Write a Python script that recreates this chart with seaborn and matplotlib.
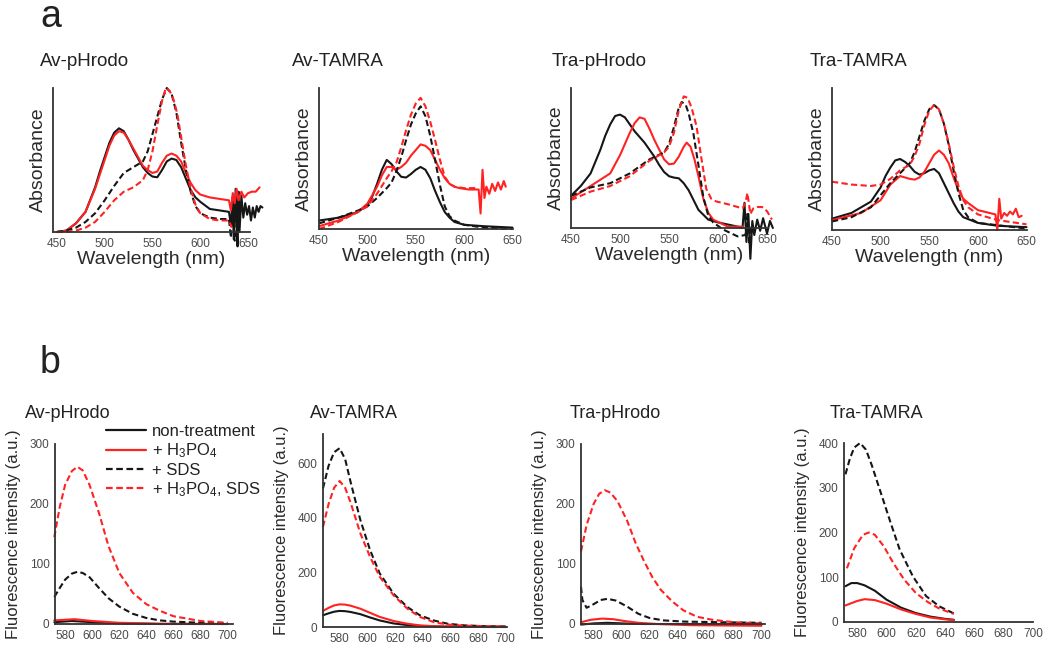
import numpy as np
import pandas as pd
import seaborn as sns
import matplotlib.pyplot as plt
from matplotlib.lines import Line2D

# treatments (legend order)
treatments = ['non-treatment', '+ H$_3$PO$_4$', '+ SDS', '+ H$_3$PO$_4$, SDS']
samples = ['Av-pHrodo', 'Av-TAMRA', 'Tra-pHrodo', 'Tra-TAMRA']

# Av-pHrodo
a1_nt_wl = [450, 460, 470, 480, 490, 495, 500, 505, 510, 515, 520, 525, 530, 535, 540, 545, 550, 555, 560, 565,
            570, 575, 580, 585, 590, 595, 600, 610, 620, 630,
            632, 634, 635, 637, 638, 639, 640, 641, 643, 645, 647, 649, 651, 653, 655, 657, 659, 661, 663, 665]
a1_nt = [0.0, 0.01, 0.06, 0.14, 0.31, 0.42, 0.52, 0.62, 0.69, 0.72, 0.70, 0.64, 0.57, 0.51, 0.45, 0.41, 0.385, 0.38, 0.43, 0.49,
         0.51, 0.50, 0.45, 0.37, 0.29, 0.24, 0.21, 0.16, 0.15, 0.14,
         0.05, 0.25, -0.05, 0.30, 0.05, -0.10, 0.28, 0.0, 0.25, 0.10, 0.20, 0.12, 0.18, 0.08, 0.17, 0.10, 0.18, 0.14, 0.18, 0.17]
a1_h3_wl = [450, 460, 470, 480, 490, 495, 500, 505, 510, 515, 520, 525, 530, 535, 540, 545, 550, 555, 560, 565,
            570, 575, 580, 585, 590, 595, 600, 610, 620, 630,
            632, 634, 636, 638, 640, 643, 646, 650, 654, 658, 662]
a1_h3 = [0.0, 0.01, 0.06, 0.14, 0.30, 0.40, 0.50, 0.60, 0.67, 0.70, 0.69, 0.64, 0.58, 0.52, 0.46, 0.43, 0.41, 0.42, 0.48, 0.53,
         0.545, 0.53, 0.49, 0.41, 0.34, 0.29, 0.26, 0.24, 0.23, 0.22,
         0.15, 0.27, 0.20, 0.30, 0.22, 0.28, 0.24, 0.27, 0.28, 0.28, 0.31]
a1_sds_wl = [450, 460, 470, 480, 490, 500, 510, 520, 530, 540, 545, 550, 555, 560, 565, 570, 575, 580, 585, 590,
             595, 600, 610, 620, 630, 632, 634, 636, 638]
a1_sds = [0.0, 0.01, 0.03, 0.07, 0.13, 0.22, 0.32, 0.41, 0.45, 0.49, 0.56, 0.68, 0.80, 0.92, 1.0, 0.96, 0.83, 0.62, 0.43, 0.28,
          0.18, 0.13, 0.10, 0.09, 0.09, -0.04, 0.14, -0.06, 0.05]
a1_both_wl = [450, 460, 470, 480, 490, 500, 510, 520, 530, 540, 545, 550, 555, 560, 564, 568, 572, 576, 580, 585,
              590, 595, 600, 610, 620, 630, 633]
a1_both = [0.0, 0.0, 0.01, 0.03, 0.07, 0.14, 0.22, 0.28, 0.31, 0.36, 0.43, 0.56, 0.74, 0.91, 1.0, 0.98, 0.92, 0.82, 0.66, 0.46,
           0.30, 0.19, 0.13, 0.09, 0.08, 0.08, 0.03]

# Av-TAMRA
a2_nt_wl = [450, 470, 490, 500, 505, 510, 515, 520, 525, 530, 535, 540, 545, 550, 555, 560, 565, 570, 575, 580,
            585, 590, 600, 620, 650]
a2_nt = [0.06, 0.08, 0.12, 0.17, 0.23, 0.32, 0.42, 0.49, 0.46, 0.41, 0.37, 0.365, 0.39, 0.42, 0.44, 0.42, 0.36, 0.27, 0.19, 0.12,
         0.08, 0.05, 0.03, 0.02, 0.01]
a2_h3_wl = [450, 470, 490, 500, 510, 515, 520, 525, 530, 535, 540, 545, 550, 555, 560, 565, 570, 575, 580, 585,
            590, 595, 605, 615, 617, 619, 621, 623, 626, 629, 632, 635, 638, 641, 643]
a2_h3 = [0.02, 0.06, 0.12, 0.18, 0.30, 0.38, 0.44, 0.44, 0.42, 0.44, 0.47, 0.52, 0.56, 0.60, 0.59, 0.56, 0.49, 0.42, 0.36, 0.32,
         0.30, 0.29, 0.28, 0.28, 0.11, 0.42, 0.22, 0.30, 0.25, 0.32, 0.27, 0.33, 0.28, 0.34, 0.30]
a2_sds_wl = [450, 470, 490, 500, 510, 520, 525, 530, 535, 540, 545, 550, 555, 560, 565, 570, 575, 580, 585, 590,
             600, 620, 650]
a2_sds = [0.04, 0.08, 0.13, 0.16, 0.22, 0.29, 0.33, 0.41, 0.51, 0.63, 0.74, 0.82, 0.87, 0.80, 0.66, 0.49, 0.31, 0.16, 0.09, 0.06,
          0.03, 0.01, 0.0]
a2_both_wl = [450, 470, 490, 500, 510, 520, 525, 530, 535, 540, 545, 550, 555, 560, 565, 570, 575, 580, 585, 590,
              600, 612]
a2_both = [0.0, 0.05, 0.12, 0.16, 0.25, 0.36, 0.41, 0.47, 0.58, 0.70, 0.81, 0.89, 0.93, 0.87, 0.76, 0.63, 0.49, 0.37, 0.32, 0.30,
           0.29, 0.29]

# Tra-pHrodo
a3_nt_wl = [450, 460, 470, 480, 485, 490, 495, 500, 505, 510, 515, 520, 525, 530, 535, 540, 545, 550, 555, 560,
            565, 570, 575, 580, 590, 600, 620, 625,
            627, 629, 631, 633, 635, 637, 640, 643, 646, 650, 653, 656]
a3_nt = [0.23, 0.30, 0.39, 0.56, 0.66, 0.74, 0.80, 0.81, 0.79, 0.74, 0.69, 0.65, 0.61, 0.56, 0.51, 0.45, 0.40, 0.37, 0.36, 0.355,
         0.32, 0.27, 0.20, 0.13, 0.06, 0.04, 0.01, 0.0,
         0.18, -0.10, 0.10, -0.22, 0.05, -0.05, 0.06, -0.02, 0.07, -0.04, 0.05, 0.0]
a3_h3_wl = [450, 470, 490, 500, 505, 510, 515, 520, 525, 530, 535, 540, 545, 550, 555, 560, 565, 568, 572, 576,
            580, 585, 590, 595, 610, 625]
a3_h3 = [0.21, 0.30, 0.39, 0.52, 0.60, 0.68, 0.75, 0.79, 0.78, 0.71, 0.63, 0.56, 0.49, 0.455, 0.46, 0.51, 0.58, 0.61, 0.58, 0.49,
         0.37, 0.21, 0.11, 0.06, 0.01, 0.01]
a3_sds_wl = [450, 470, 490, 510, 530, 545, 550, 555, 560, 563, 567, 570, 575, 580, 585, 590, 595, 605, 620, 628,
             630, 632, 634, 636]
a3_sds = [0.23, 0.29, 0.32, 0.39, 0.49, 0.54, 0.60, 0.72, 0.86, 0.90, 0.88, 0.82, 0.67, 0.45, 0.22, 0.09, 0.04, -0.01, -0.06, -0.05,
          0.10, -0.12, 0.02, -0.05]
a3_both_wl = [450, 470, 490, 510, 530, 545, 550, 555, 560, 565, 569, 573, 578, 583, 588, 593, 598, 610, 625, 628,
              630, 633, 636, 640, 645, 650, 655]
a3_both = [0.20, 0.26, 0.30, 0.37, 0.48, 0.54, 0.58, 0.68, 0.84, 0.94, 0.93, 0.86, 0.73, 0.50, 0.28, 0.21, 0.19, 0.17, 0.14, 0.18,
           0.25, 0.10, 0.14, 0.15, 0.15, 0.12, 0.06]

# Tra-TAMRA
a4_nt_wl = [450, 470, 490, 500, 505, 510, 515, 520, 525, 530, 535, 540, 545, 550, 555, 560, 565, 570, 575, 580,
            585, 600, 620, 650]
a4_nt = [0.08, 0.12, 0.20, 0.30, 0.38, 0.44, 0.49, 0.50, 0.48, 0.45, 0.41, 0.39, 0.40, 0.42, 0.43, 0.40, 0.33, 0.26, 0.19, 0.13,
         0.09, 0.05, 0.03, 0.02]
a4_h3_wl = [450, 480, 500, 510, 520, 525, 530, 535, 540, 545, 550, 555, 560, 565, 570, 575, 580, 585, 590, 600,
            618, 620, 622, 624, 627, 630, 633, 636, 639, 642, 645]
a4_h3 = [0.07, 0.12, 0.21, 0.32, 0.38, 0.37, 0.36, 0.355, 0.37, 0.41, 0.47, 0.53, 0.56, 0.53, 0.47, 0.37, 0.28, 0.22, 0.19, 0.14,
         0.11, 0.0, 0.22, 0.08, 0.12, 0.10, 0.13, 0.11, 0.15, 0.09, 0.10]
a4_sds_wl = [450, 470, 490, 510, 520, 530, 535, 540, 545, 550, 555, 560, 565, 570, 575, 580, 585, 590, 600, 650]
a4_sds = [0.06, 0.09, 0.16, 0.33, 0.40, 0.47, 0.55, 0.66, 0.77, 0.85, 0.88, 0.85, 0.75, 0.60, 0.42, 0.26, 0.14, 0.09, 0.05, 0.01]
a4_both_wl = [450, 470, 490, 500, 510, 520, 530, 535, 540, 545, 550, 555, 560, 565, 570, 575, 580, 585, 590, 600,
              620, 640, 650]
a4_both = [0.34, 0.32, 0.31, 0.32, 0.36, 0.42, 0.46, 0.52, 0.61, 0.74, 0.84, 0.88, 0.85, 0.75, 0.61, 0.45, 0.31, 0.21, 0.16, 0.11,
           0.07, 0.05, 0.04]

# ---- b: fluorescence intensity (a.u.) ----
# Av-pHrodo
f1_nt_wl = [572, 585, 600, 620, 650, 700]
f1_nt = [3, 5, 3, 1, 0, 0]
f1_h3_wl = [572, 587, 600, 620, 650, 700]
f1_h3 = [6, 8, 5, 2, 0.5, 0]
f1_dash_wl = [572, 576, 580, 585, 589, 593, 598, 605, 612, 620, 630, 640, 650, 660, 680, 700]
f1_sds = [45, 60, 74, 84, 87, 85, 78, 60, 43, 29, 17, 10, 6, 4, 2, 1]
f1_both = [145, 195, 232, 255, 262, 256, 232, 185, 130, 85, 52, 33, 22, 13, 5, 2]

# Av-TAMRA
f2_wl = [568, 572, 576, 580, 584, 588, 595, 602, 609, 619, 629, 638, 648, 658, 670, 685, 700]
f2_nt = [43, 50, 56, 59, 58, 55, 47, 35, 24, 13, 7, 4, 2, 1, 1, 0, 0]
f2_h3 = [59, 70, 79, 83, 82, 78, 67, 52, 37, 22, 12, 6, 3, 2, 1, 1, 0]
f2_sds = [508, 590, 640, 655, 615, 530, 392, 282, 196, 122, 73, 43, 24, 12, 6, 3, 2]
f2_both = [367, 450, 510, 535, 510, 455, 343, 257, 184, 116, 67, 37, 18, 9, 5, 3, 2]

# Tra-pHrodo
f3_nt_wl = [571, 580, 590, 600, 615, 640, 700]
f3_nt = [-1, 1, 2, 1, 0, 0, 0]
f3_h3_wl = [571, 578, 586, 594, 602, 612, 625, 650, 700]
f3_h3 = [3, 7, 9, 8, 5, 2, 0, -2, -3]
f3_sds_wl = [571, 572, 575, 580, 585, 590, 596, 604, 612, 620, 630, 645, 670, 700]
f3_sds = [62, 40, 27, 33, 40, 42, 39, 29, 17, 10, 6, 4, 3, 2]
f3_both_wl = [571, 575, 580, 584, 588, 592, 597, 604, 610, 616, 622, 628, 636, 644, 654, 665, 680, 700]
f3_both = [121, 165, 200, 217, 223, 219, 205, 172, 135, 105, 78, 57, 38, 23, 12, 7, 3, 1]

# Tra-TAMRA
f4_sol_wl = [572, 576, 580, 585, 592, 600, 610, 620, 630, 640, 646]
f4_nt = [80, 87, 87, 82, 70, 50, 32, 20, 12, 7, 5]
f4_h3 = [37, 42, 47, 51, 49, 41, 28, 18, 10, 6, 4]
f4_sds_wl = [572, 575, 578, 582, 586, 590, 596, 603, 609, 618, 627, 636, 646]
f4_sds = [330, 365, 390, 400, 385, 350, 290, 220, 162, 102, 58, 35, 19]
f4_both_wl = [573, 578, 584, 588, 592, 598, 605, 612, 620, 628, 636, 646]
f4_both = [120, 165, 195, 200, 195, 170, 130, 95, 65, 45, 30, 18]

W, H = 1050, 645


def rect(l, t, r, b):
    return [l / W, 1 - b / H, (r - l) / W, (b - t) / H]


def frame(*series):
    parts = []
    for name, x, y in series:
        parts.append(pd.DataFrame({'wl': x, 'val': y, 'treatment': name}))
    return pd.concat(parts, ignore_index=True)


abs_data = [
    frame((treatments[0], a1_nt_wl, a1_nt), (treatments[1], a1_h3_wl, a1_h3),
          (treatments[2], a1_sds_wl, a1_sds), (treatments[3], a1_both_wl, a1_both)),
    frame((treatments[0], a2_nt_wl, a2_nt), (treatments[1], a2_h3_wl, a2_h3),
          (treatments[2], a2_sds_wl, a2_sds), (treatments[3], a2_both_wl, a2_both)),
    frame((treatments[0], a3_nt_wl, a3_nt), (treatments[1], a3_h3_wl, a3_h3),
          (treatments[2], a3_sds_wl, a3_sds), (treatments[3], a3_both_wl, a3_both)),
    frame((treatments[0], a4_nt_wl, a4_nt), (treatments[1], a4_h3_wl, a4_h3),
          (treatments[2], a4_sds_wl, a4_sds), (treatments[3], a4_both_wl, a4_both)),
]
fl_data = [
    frame((treatments[0], f1_nt_wl, f1_nt), (treatments[1], f1_h3_wl, f1_h3),
          (treatments[2], f1_dash_wl, f1_sds), (treatments[3], f1_dash_wl, f1_both)),
    frame((treatments[0], f2_wl, f2_nt), (treatments[1], f2_wl, f2_h3),
          (treatments[2], f2_wl, f2_sds), (treatments[3], f2_wl, f2_both)),
    frame((treatments[0], f3_nt_wl, f3_nt), (treatments[1], f3_h3_wl, f3_h3),
          (treatments[2], f3_sds_wl, f3_sds), (treatments[3], f3_both_wl, f3_both)),
    frame((treatments[0], f4_sol_wl, f4_nt), (treatments[1], f4_sol_wl, f4_h3),
          (treatments[2], f4_sds_wl, f4_sds), (treatments[3], f4_both_wl, f4_both)),
]

sns.set_style('white')
plt.rcParams['font.family'] = ['Liberation Sans', 'DejaVu Sans']
plt.rcParams['mathtext.default'] = 'regular'

BLACK = '#161616'
RED = '#ff2222'
palette = {treatments[0]: BLACK, treatments[1]: RED, treatments[2]: BLACK, treatments[3]: RED}
dash_map = {treatments[0]: '', treatments[1]: '', treatments[2]: (3, 1.6), treatments[3]: (3, 1.6)}
TICK = '#4a4a4a'
SPINE = '#333333'

fig = plt.figure(figsize=(W / 100, H / 100), dpi=100)

# panel boxes in pixels (left, top, right, bottom)
top_boxes = [(53, 88, 250, 232), (319, 88, 513, 229), (571, 88, 768, 228), (832, 88, 1027, 230)]
top_xlims = [(446, 652), (450, 650.5), (450, 651), (450, 650.5)]
top_title_x = [40, 292, 552, 810]

bot_boxes = [(55, 444, 233, 624), (323, 434, 507, 627), (581, 444, 765, 624), (844, 443, 1033, 622)]
bot_xlims = [(572.5, 704), (568, 701), (571, 702.5), (571, 700)]
bot_ylims = [(0, 300), (0, 707), (0, 300), (0, 400)]
bot_yticks = [[0, 100, 200, 300], [0, 200, 400, 600], [0, 100, 200, 300], [0, 100, 200, 300, 400]]
bot_title_x = [25, 310, 570, 830]


def style_axes(ax):
    sns.despine(ax=ax)
    for s in ['left', 'bottom']:
        ax.spines[s].set_color(SPINE)
        ax.spines[s].set_linewidth(1.3)
    ax.tick_params(colors=TICK, labelsize=8.5, length=0, pad=4)
    ax.grid(False)


for i in range(4):
    ax = fig.add_axes(rect(*top_boxes[i]))
    sns.lineplot(data=abs_data[i], x='wl', y='val', hue='treatment', style='treatment',
                 hue_order=treatments, style_order=treatments, palette=palette, dashes=dash_map,
                 estimator=None, legend=False, linewidth=1.5, clip_on=False, ax=ax)
    ax.set_xlim(*top_xlims[i])
    ax.set_ylim(0, 1.0)
    ax.set_xticks([450, 500, 550, 600, 650])
    ax.set_yticks([])
    style_axes(ax)
    ax.set_xlabel('Wavelength (nm)', fontsize=14, labelpad=1, color='#2a2a2a')
    ax.set_ylabel('Absorbance', fontsize=14, labelpad=4, color='#2a2a2a')
    fig.text(top_title_x[i] / W, 1 - 62 / H, samples[i], fontsize=13.5, ha='left', va='center', color='#222222')

for i in range(4):
    ax = fig.add_axes(rect(*bot_boxes[i]))
    sns.lineplot(data=fl_data[i], x='wl', y='val', hue='treatment', style='treatment',
                 hue_order=treatments, style_order=treatments, palette=palette, dashes=dash_map,
                 estimator=None, legend=False, linewidth=1.5, clip_on=False, ax=ax)
    ax.set_xlim(*bot_xlims[i])
    ax.set_ylim(*bot_ylims[i])
    ax.set_xticks([580, 600, 620, 640, 660, 680, 700])
    ax.set_yticks(bot_yticks[i])
    style_axes(ax)
    ax.set_xlabel('')
    ax.set_ylabel('Fluorescence intensity (a.u.)', fontsize=12, labelpad=6, color='#2a2a2a')
    fig.text(bot_title_x[i] / W, 1 - 413 / H, samples[i], fontsize=13, ha='left', va='center', color='#222222')

handles = [Line2D([], [], color=palette[t], linewidth=1.6,
                  linestyle='-' if dash_map[t] == '' else (0, (3, 1.6))) for t in treatments]
fig.legend(handles, treatments, loc='upper left', bbox_to_anchor=(91 / W, 1 - 409 / H),
           frameon=False, fontsize=12, handlelength=2.4, handletextpad=0.35, labelspacing=0.15,
           borderpad=0.4, labelcolor='#222222')

fig.text(40 / W, 1 - 17 / H, 'a', fontsize=27, ha='left', va='center', color='#222222')
fig.text(40 / W, 1 - 363 / H, 'b', fontsize=27, ha='left', va='center', color='#222222')

fig.savefig('out.png', dpi=100)
